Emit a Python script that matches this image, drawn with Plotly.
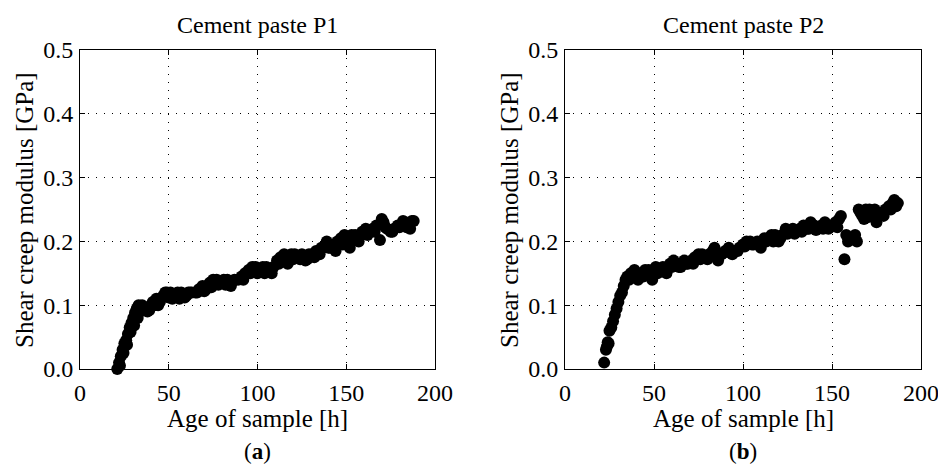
import plotly.graph_objects as go

# ---- data ----
p1_hours = [21, 22, 23, 24, 25, 26, 27, 28, 29, 30, 31, 32, 33, 34, 35, 36, 37, 38, 39, 40,
            41, 43, 44, 45, 47, 48, 49, 51, 53, 55, 57, 59, 60, 61, 63, 65, 67, 69, 71, 73,
            75, 77, 79, 81, 83, 85, 87, 89, 91, 93, 95, 97, 99, 101, 103, 105, 107, 109, 111,
            113, 115, 117, 119, 121, 123, 125, 127, 129, 131, 133, 135, 137, 139, 141, 143,
            145, 147, 149, 151, 152, 153, 155, 157, 159, 161, 163, 165, 167, 169, 170, 171,
            173, 175, 177, 179, 181, 182, 183, 185, 187, 188,
            22.5, 24.5, 26.5, 28.5, 30.5, 32.5, 34, 42, 46, 50, 52, 56, 62, 66, 70, 74, 78,
            82, 86, 92, 96, 100, 104, 108, 112, 116, 120, 124, 128, 132, 136, 140, 144, 148,
            150, 154, 158, 162, 166, 172, 176, 180, 184, 186]
p1_modulus = [0.000, 0.010, 0.020, 0.030, 0.040, 0.045, 0.055, 0.065, 0.072, 0.080, 0.088,
              0.095, 0.100, 0.098, 0.100, 0.095, 0.092, 0.090, 0.092, 0.100,
              0.105, 0.110, 0.100, 0.105, 0.115, 0.120, 0.120, 0.120, 0.115, 0.120, 0.120,
              0.112, 0.115, 0.120, 0.120, 0.120, 0.125, 0.130, 0.125, 0.135,
              0.140, 0.140, 0.135, 0.140, 0.140, 0.130, 0.140, 0.140, 0.145, 0.150, 0.155,
              0.160, 0.160, 0.155, 0.160, 0.160, 0.152, 0.160, 0.170,
              0.175, 0.180, 0.165, 0.180, 0.180, 0.175, 0.180, 0.170, 0.180, 0.180, 0.185,
              0.180, 0.190, 0.200, 0.190, 0.195,
              0.200, 0.205, 0.210, 0.195, 0.190, 0.210, 0.210, 0.200, 0.215, 0.220, 0.215,
              0.220, 0.225, 0.202, 0.235, 0.230,
              0.220, 0.215, 0.220, 0.225, 0.225, 0.232, 0.230, 0.225, 0.232, 0.232,
              0.005, 0.025, 0.038, 0.058, 0.068, 0.080, 0.090, 0.100, 0.112, 0.112, 0.110,
              0.110, 0.120, 0.120, 0.122, 0.128, 0.132,
              0.132, 0.138, 0.140, 0.150, 0.150, 0.150, 0.150, 0.165, 0.172, 0.172, 0.172,
              0.172, 0.175, 0.190, 0.190, 0.185, 0.195,
              0.200, 0.205, 0.210, 0.210, 0.215, 0.222, 0.215, 0.222, 0.222, 0.220]

p2_hours = [22, 23, 23.5, 24, 24.5, 25, 26, 27, 28, 29, 30, 31, 32, 33, 34, 35, 37, 39, 41,
            43, 45, 47, 49, 51, 53, 55, 57, 59, 61, 63, 65, 67, 69, 71, 73, 75, 77, 79, 81,
            83, 84, 86, 88, 90, 92, 94, 96, 98, 100, 102, 104, 106, 108, 110, 112, 114, 116,
            118, 120, 122, 124, 126, 128, 130, 132, 134, 136, 138, 140, 142, 144, 146, 148,
            150, 152, 154, 155, 157, 158, 159, 161, 163, 164, 165, 166, 168, 169, 171, 173,
            175, 176, 178, 180, 182, 184, 185, 186, 187,
            36, 38, 40, 44, 48, 52, 56, 60, 64, 68, 72, 76, 80, 89, 93, 97, 101, 105, 109,
            113, 117, 121, 125, 129, 133, 137, 141, 145, 149, 153, 167, 170, 174, 179, 183]
p2_modulus = [0.010, 0.030, 0.035, 0.042, 0.040, 0.060, 0.065, 0.075, 0.085, 0.095, 0.105,
              0.115, 0.120, 0.130, 0.140, 0.145, 0.150, 0.155, 0.140,
              0.150, 0.155, 0.155, 0.140, 0.160, 0.155, 0.160, 0.150, 0.165, 0.170, 0.165,
              0.160, 0.170, 0.165, 0.170, 0.175, 0.180, 0.180, 0.175, 0.180,
              0.185, 0.190, 0.170, 0.180, 0.185, 0.190, 0.180, 0.185, 0.190, 0.195, 0.200,
              0.200, 0.195, 0.200, 0.190, 0.205, 0.205, 0.210,
              0.210, 0.200, 0.210, 0.220, 0.215, 0.220, 0.215, 0.220, 0.225, 0.220, 0.230,
              0.225, 0.220, 0.225, 0.230, 0.220,
              0.225, 0.230, 0.235, 0.240, 0.172, 0.210, 0.200, 0.205, 0.210, 0.200, 0.250,
              0.245, 0.235, 0.250, 0.250, 0.245,
              0.230, 0.240, 0.245, 0.250, 0.255, 0.260, 0.265, 0.255, 0.260,
              0.140, 0.145, 0.150, 0.145, 0.150, 0.150, 0.155, 0.160, 0.160, 0.165, 0.165,
              0.172, 0.172, 0.182, 0.182, 0.185, 0.192, 0.195, 0.195,
              0.200, 0.200, 0.205, 0.212, 0.212, 0.215, 0.220, 0.218, 0.220, 0.222, 0.222,
              0.240, 0.238, 0.250, 0.240, 0.250]

panel_titles = ["Cement paste P1", "Cement paste P2"]
panel_labels = ["(<b>a</b>)", "(<b>b</b>)"]
x_ticks = [0, 50, 100, 150, 200]
y_ticks = [0.0, 0.1, 0.2, 0.3, 0.4, 0.5]
x_title = "Age of sample [h]"
y_title = "Shear creep modulus [GPa]"

FONT = "'Liberation Serif', 'DejaVu Serif', 'Times New Roman', serif"
W, H = 938, 465
x_domains = [(80 / W, 435 / W), (565 / W, 921 / W)]
y_domain = ((H - 369) / H, (H - 50) / H)

fig = go.Figure()
marker = dict(color="black", size=12, symbol="circle", line=dict(width=0))
fig.add_trace(go.Scatter(x=p1_hours, y=p1_modulus, mode="markers", marker=marker,
                         cliponaxis=False, xaxis="x", yaxis="y", showlegend=False))
fig.add_trace(go.Scatter(x=p2_hours, y=p2_modulus, mode="markers", marker=marker,
                         cliponaxis=False, xaxis="x2", yaxis="y2", showlegend=False))

axis_common = dict(showline=True, linecolor="black", linewidth=1, mirror="ticks",
                   ticks="inside", ticklen=5, tickcolor="black", automargin=False,
                   ticklabeloverflow="allow",
                   showgrid=True, gridcolor="black", gridwidth=1, griddash="1px,7px",
                   zeroline=False, tickfont=dict(family=FONT, size=24, color="black"))

fig.update_layout(
    template="none",
    width=W, height=H, margin=dict(l=0, r=0, t=0, b=0, pad=0),
    paper_bgcolor="white", plot_bgcolor="white",
    font=dict(family=FONT, color="black"),
    xaxis=dict(domain=x_domains[0], range=[0, 200], tickvals=x_ticks, anchor="y",
               ticklabelstandoff=2, **axis_common),
    yaxis=dict(domain=y_domain, range=[0, 0.5], tickvals=y_ticks, tickformat=".1f", anchor="x",
               ticklabelstandoff=1, **axis_common),
    xaxis2=dict(domain=x_domains[1], range=[0, 200], tickvals=x_ticks, anchor="y2",
                ticklabelstandoff=2, **axis_common),
    yaxis2=dict(domain=y_domain, range=[0, 0.5], tickvals=y_ticks, tickformat=".1f", anchor="x2",
                ticklabelstandoff=1, **axis_common),
)

for i, (d0, d1) in enumerate(x_domains):
    cx = (d0 + d1) / 2
    common = dict(xref="paper", yref="paper", showarrow=False, xanchor="center", yanchor="middle")
    fig.add_annotation(text=panel_titles[i], x=cx, y=1 - 25 / H,
                       font=dict(family=FONT, size=24, color="black"), **common)
    fig.add_annotation(text=x_title, x=cx, y=1 - 418 / H,
                       font=dict(family=FONT, size=25, color="black"), **common)
    fig.add_annotation(text=panel_labels[i], x=cx, y=1 - 451 / H,
                       font=dict(family=FONT, size=23, color="black"), **common)
    ylx = (24 if i == 0 else 509) / W
    fig.add_annotation(text=y_title, x=ylx, y=1 - 210 / H, textangle=-90,
                       font=dict(family=FONT, size=25, color="black"), **common)

fig.write_html("out.html")
